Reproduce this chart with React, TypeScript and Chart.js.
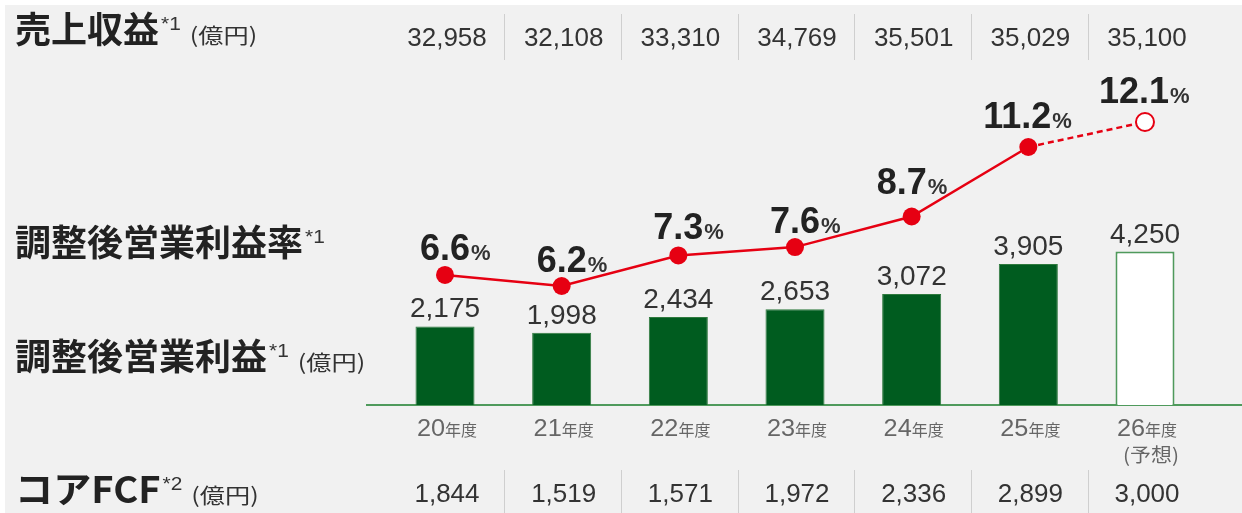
import React, { useEffect, useRef } from "react";
import { Chart, registerables } from "chart.js";

Chart.register(...registerables);

// ---- data ----
const categories = ["20", "21", "22", "23", "24", "25", "26"];
const categorySuffix = "年度";
const forecastNote = "(予想)";
const revenue = [32958, 32108, 33310, 34769, 35501, 35029, 35100];
const adjOpProfit = [2175, 1998, 2434, 2653, 3072, 3905, 4250];
const adjOpMargin = [6.6, 6.2, 7.3, 7.6, 8.7, 11.2, 12.1];
const coreFcf = [1844, 1519, 1571, 1972, 2336, 2899, 3000];
const forecastIndex = 6;

// ---- style / layout config ----
const W = 1242;
const H = 513;
const RED = "#e60012";
const GREEN = "#005c1f";
const GREEN_LINE = "#4f9a5c";
const BG = "#f1f1f1";
const CJK = '"Noto Sans CJK JP", sans-serif';
const LAT = '"Liberation Sans", Arial, sans-serif';
const pctDx = [0, 0, 0, 0, -10, -11, -11];
const pctLift = [15, 14, 16, 14, 23, 19, 19];

const fmt = (v: number) => v.toLocaleString("en-US");

function text(
  ctx: CanvasRenderingContext2D,
  s: string,
  x: number,
  y: number,
  font: string,
  color: string,
  align: CanvasTextAlign = "left",
  sx = 1
) {
  ctx.save();
  ctx.font = font;
  ctx.fillStyle = color;
  ctx.textAlign = align;
  ctx.textBaseline = "alphabetic";
  ctx.translate(x, y);
  ctx.scale(sx, 1);
  ctx.fillText(s, 0, 0);
  ctx.restore();
}

function width(ctx: CanvasRenderingContext2D, s: string, font: string, sx = 1) {
  ctx.save();
  ctx.font = font;
  const w = ctx.measureText(s).width * sx;
  ctx.restore();
  return w;
}

const decorPlugin = {
  id: "decor",
  beforeDraw(chart: any) {
    const ctx: CanvasRenderingContext2D = chart.ctx;
    ctx.save();
    ctx.fillStyle = "#ffffff";
    ctx.fillRect(0, 0, W, H);
    ctx.fillStyle = BG;
    ctx.fillRect(5, 5, W - 5, H - 5);
    ctx.restore();
  },
  beforeDatasetsDraw(chart: any) {
    const ctx: CanvasRenderingContext2D = chart.ctx;
    const ca = chart.chartArea;
    ctx.save();
    ctx.strokeStyle = GREEN_LINE;
    ctx.lineWidth = 2;
    ctx.beginPath();
    ctx.moveTo(366, ca.bottom);
    ctx.lineTo(W, ca.bottom);
    ctx.stroke();
    ctx.restore();
  },
  afterDraw(chart: any) {
    const ctx: CanvasRenderingContext2D = chart.ctx;
    const x = chart.scales.x;
    const ca = chart.chartArea;
    const n = categories.length;
    const step = (ca.right - ca.left) / n;

    // separators in top and bottom rows
    ctx.save();
    ctx.strokeStyle = "#cfcfcf";
    ctx.lineWidth = 1;
    for (let k = 1; k < n; k++) {
      const sx = Math.round(ca.left + step * k) + 1.5;
      ctx.beginPath();
      ctx.moveTo(sx, 14);
      ctx.lineTo(sx, 60);
      ctx.moveTo(sx, 470);
      ctx.lineTo(sx, 513);
      ctx.stroke();
    }
    ctx.restore();

    // left labels
    const bold = `bold 36px ${CJK}`;
    const sup = `19px ${LAT}`;
    const unit = `21px ${CJK}`;
    const drawLabel = (main: string, base: number, s: string | null, u: boolean, msx = 1) => {
      text(ctx, main, 15, base, bold, "#222", "left", msx);
      let cx = 15 + width(ctx, main, bold, msx) + 2;
      if (s) {
        text(ctx, s, cx, base - 13, sup, "#333", "left", 1.1);
        cx += width(ctx, s, sup, 1.1) + 9;
      }
      if (u) text(ctx, "(億円)", cx, base, unit, "#333", "left", 1.2);
    };
    drawLabel("売上収益", 43, "*1", true);
    drawLabel("調整後営業利益率", 256, "*1", false);
    drawLabel("調整後営業利益", 370, "*1", true);
    drawLabel("コアFCF", 503, "*2", true, 1.06);

    // top row revenue, bottom row core FCF
    categories.forEach((_, i) => {
      const cx = x.getPixelForValue(i);
      text(ctx, fmt(revenue[i]), cx + 2, 46, `26px ${LAT}`, "#333", "center");
      text(ctx, fmt(coreFcf[i]), cx + 2, 502, `25px ${LAT}`, "#333", "center", 1.04);
    });

    // x labels
    categories.forEach((c, i) => {
      const cx = x.getPixelForValue(i) + 2;
      const f1 = `23px ${LAT}`;
      const f2 = `16px ${CJK}`;
      const w1 = width(ctx, c, f1, 1.1);
      const w2 = width(ctx, categorySuffix, f2);
      const start = cx - (w1 + w2) / 2;
      text(ctx, c, start, 436, f1, "#666", "left", 1.1);
      text(ctx, categorySuffix, start + w1, 436, f2, "#666");
      if (i === forecastIndex) {
        text(ctx, forecastNote, start + (w1 + w2) / 2 + 4, 462, `19px ${CJK}`, "#666", "center", 1.1);
      }
    });

    // bar value labels
    const barMeta = chart.getDatasetMeta(1);
    barMeta.data.forEach((el: any, i: number) => {
      text(ctx, fmt(adjOpProfit[i]), el.x, el.y - 9, `28px ${LAT}`, "#333", "center");
    });

    // margin labels
    const lineMeta = chart.getDatasetMeta(0);
    lineMeta.data.forEach((el: any, i: number) => {
      const num = adjOpMargin[i].toFixed(1);
      const fNum = `bold 36px ${LAT}`;
      const fPct = `bold 22px ${LAT}`;
      const cx = el.x + pctDx[i];
      const wn = width(ctx, num, fNum);
      const by = el.y - pctLift[i];
      text(ctx, num, cx - wn / 2, by, fNum, "#222");
      text(ctx, "%", cx + wn / 2 + 1, by, fPct, "#333");
    });
  },
};

export default function App() {
  const ref = useRef<HTMLCanvasElement | null>(null);
  useEffect(() => {
    document.body.style.margin = "0";
    const canvas = ref.current!;
    const chart = new Chart(canvas, {
      data: {
        labels: categories,
        datasets: [
          {
            type: "line",
            data: adjOpMargin,
            yAxisID: "y1",
            order: 0,
            borderColor: RED,
            borderWidth: 2.5,
            pointRadius: 9,
            pointHoverRadius: 9,
            pointBackgroundColor: adjOpMargin.map((_, i) => (i === forecastIndex ? "#ffffff" : RED)),
            pointBorderColor: RED,
            pointBorderWidth: adjOpMargin.map((_, i) => (i === forecastIndex ? 2 : 0)),
            segment: {
              borderDash: (c: any) => (c.p1DataIndex === forecastIndex ? [6, 4] : undefined),
            },
            tension: 0,
          } as any,
          {
            type: "bar",
            data: adjOpProfit,
            yAxisID: "y",
            order: 1,
            backgroundColor: adjOpProfit.map((_, i) => (i === forecastIndex ? "#ffffff" : GREEN)),
            borderColor: adjOpProfit.map((_, i) => (i === forecastIndex ? GREEN_LINE : "#2f7a3e")),
            borderWidth: adjOpProfit.map((_, i) => (i === forecastIndex ? 2 : 1)) as any,
            barPercentage: 0.506,
            categoryPercentage: 1,
          } as any,
        ],
      },
      options: {
        responsive: false,
        animation: false,
        devicePixelRatio: 1,
        layout: { padding: { left: 386.67, right: 38.67, top: 80, bottom: 108 } },
        plugins: { legend: { display: false }, tooltip: { enabled: false }, title: { display: false } },
        scales: {
          x: { display: false, offset: true, grid: { display: false } },
          y: { display: false, min: 0, max: 9000 },
          y1: { display: false, min: 1.92, max: 13.61 },
        },
      },
      plugins: [decorPlugin as any],
    });
    return () => chart.destroy();
  }, []);
  return <canvas ref={ref} width={W} height={H} style={{ display: "block", width: W, height: H }} />;
}
